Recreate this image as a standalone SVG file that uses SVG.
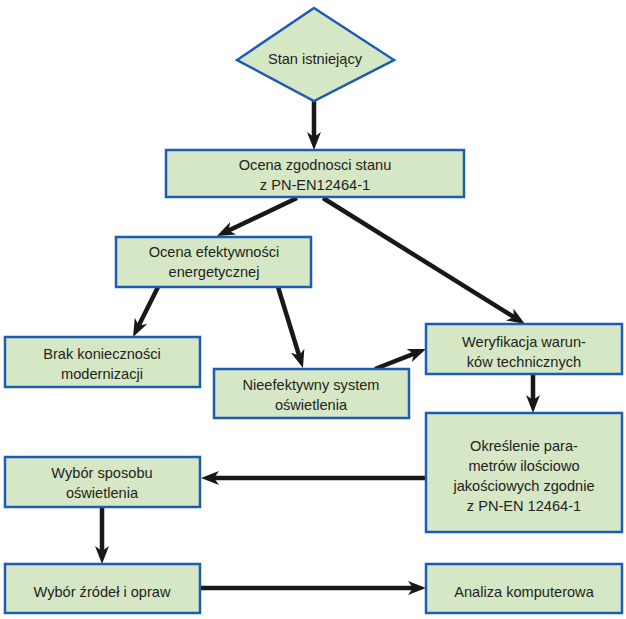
<svg xmlns="http://www.w3.org/2000/svg" width="626" height="619" viewBox="0 0 626 619">
<defs>
<style>
.n{fill:#d5e7c4;stroke:#1d5cb4;stroke-width:2.5}
.t{font-family:"Liberation Sans",Arial,sans-serif;font-size:14.6px;fill:#231f20;text-anchor:middle}
.c{stroke:#1a1718;stroke-width:4.5;fill:none;marker-end:url(#ah)}
</style>
<marker id="ah" markerUnits="userSpaceOnUse" markerWidth="18" markerHeight="14" viewBox="0 0 18 14" refX="8" refY="7" orient="auto">
<path d="M0,0 L18,7 L0,14 L5,7 Z" fill="#1a1718"/>
</marker>
</defs>
<rect width="626" height="619" fill="#ffffff"/>
<g id="connectors">
<line class="c" x1="314" y1="101" x2="314" y2="140"/>
<line class="c" x1="297" y1="198" x2="226" y2="231.7"/>
<line class="c" x1="323" y1="198" x2="516.5" y2="318.7"/>
<line class="c" x1="158" y1="287" x2="137.5" y2="328.1"/>
<line class="c" x1="278" y1="287" x2="300" y2="358.4"/>
<line class="c" x1="375" y1="369" x2="416.7" y2="352.7"/>
<line class="c" x1="533" y1="374" x2="533" y2="403"/>
<line class="c" x1="427" y1="478" x2="211" y2="478"/>
<line class="c" x1="102" y1="507" x2="102" y2="554"/>
<line class="c" x1="200" y1="588" x2="416" y2="588"/>
</g>
<g id="stan">
<polygon class="n" points="314,8 394,60 314,101 237,60"/>
<text class="t" x="315" y="64">Stan istniejący</text>
</g>
<g id="ocena-zgodnosci">
<rect class="n" x="166" y="150" width="298" height="47"/>
<text class="t" x="315" y="170">Ocena zgodnosci stanu</text>
<text class="t" x="315" y="190">z PN-EN12464-1</text>
</g>
<g id="ocena-efektywnosci">
<rect class="n" x="116" y="237" width="195" height="50"/>
<text class="t" x="214" y="257">Ocena efektywności</text>
<text class="t" x="214" y="277">energetycznej</text>
</g>
<g id="brak">
<rect class="n" x="5" y="337" width="195" height="50"/>
<text class="t" x="102" y="359">Brak konieczności</text>
<text class="t" x="102" y="379">modernizacji</text>
</g>
<g id="nieefektywny">
<rect class="n" x="214" y="369" width="195" height="49"/>
<text class="t" x="311" y="390">Nieefektywny system</text>
<text class="t" x="311" y="410">oświetlenia</text>
</g>
<g id="weryfikacja">
<rect class="n" x="426" y="324" width="196" height="50"/>
<text class="t" x="524" y="347">Weryfikacja warun-</text>
<text class="t" x="524" y="367">ków technicznych</text>
</g>
<g id="okreslenie">
<rect class="n" x="426" y="413" width="196" height="119"/>
<text class="t" x="524" y="451">Określenie para-</text>
<text class="t" x="524" y="471">metrów ilościowo</text>
<text class="t" x="524" y="491">jakościowych zgodnie</text>
<text class="t" x="524" y="511">z PN-EN 12464-1</text>
</g>
<g id="wybor-sposobu">
<rect class="n" x="5" y="457" width="195" height="50"/>
<text class="t" x="102" y="478">Wybór sposobu</text>
<text class="t" x="102" y="498">oświetlenia</text>
</g>
<g id="wybor-zrodel">
<rect class="n" x="5" y="564" width="195" height="49"/>
<text class="t" x="102" y="597">Wybór źródeł i opraw</text>
</g>
<g id="analiza">
<rect class="n" x="426" y="564" width="196" height="49"/>
<text class="t" x="524" y="597">Analiza komputerowa</text>
</g>
</svg>
